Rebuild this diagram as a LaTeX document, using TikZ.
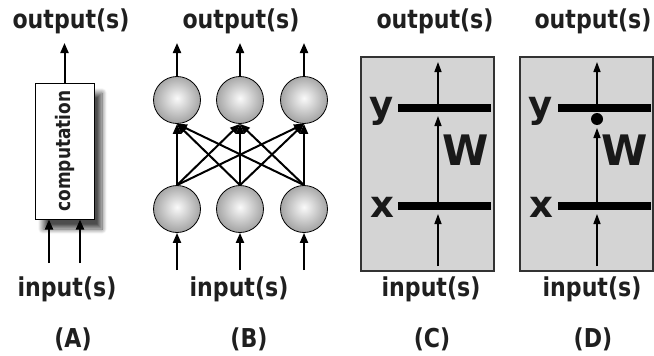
\documentclass[tikz,border=0pt]{standalone}
\usepackage{fontspec}
\setmainfont{DejaVu Sans}
\newfontfamily\lblfont{DejaVu Sans Bold}[FakeStretch=0.85]
\newfontfamily\heavyfont{DejaVu Sans Bold}
\usetikzlibrary{arrows.meta,shadows.blur}
\pgfdeclareradialshading{ballgray}{\pgfpoint{0bp}{2bp}}{color(0bp)=(black!2); color(30bp)=(black!42); color(50bp)=(black!72)}
\begin{document}
\begin{tikzpicture}[x=1pt,y=-1pt,
  lbl/.style={font=\lblfont\fontsize{26}{30}\selectfont, anchor=base, inner sep=0pt, text=black!88},
  arr/.style={line width=2pt, -{Triangle[length=10pt,width=8pt]}},
  thinarr/.style={line width=1.4pt, -{Triangle[length=10pt,width=7pt]}},
  ball/.style={circle, draw=black, line width=0.8pt, minimum size=47pt, inner sep=0pt, shading=ballgray},
  panel/.style={draw=black!80, line width=1.2pt, fill=black!17, minimum width=133pt, minimum height=214pt, inner sep=0pt},
  bar/.style={line width=8pt},
  big/.style={font=\heavyfont\fontsize{37}{40}\selectfont, anchor=base, inner sep=0pt, text=black!90},
  bigw/.style={font=\heavyfont\fontsize{42}{44}\selectfont, anchor=base, inner sep=0pt, text=black!90},
  dotnode/.style={circle, fill=black, minimum size=12pt, inner sep=0pt},
]
\useasboundingbox (0,0) rectangle (654,356);

% ---------- Panel A ----------
\node[lbl] (outA) at (71,28) {output(s)};
\node[lbl] (inA) at (67,296) {input(s)};
\node[lbl] (capA) at (73,347) {(A)};
\node[draw, line width=1pt, fill=white, minimum width=59pt, minimum height=136pt, inner sep=0pt,
  blur shadow={shadow xshift=8pt, shadow yshift=-10pt, shadow blur radius=5pt, shadow blur steps=10, shadow opacity=70}]
  (box) at (64.5,151) {};
\node[rotate=90, font=\lblfont\fontsize{20}{22}\selectfont, text=black!88] (comp) at (65,151) {computation};
\coordinate (oA) at (64.5,43);
\coordinate (iA1) at (49,263);
\coordinate (iA2) at (80,263);
\draw[arr] (box.north) -- (oA);
\draw[arr] (iA1) -- (iA1 |- box.south);
\draw[arr] (iA2) -- (iA2 |- box.south);

% ---------- Panel B ----------
\node[lbl] (outB) at (241,28) {output(s)};
\node[lbl] (inB) at (239,296) {input(s)};
\node[lbl] (capB) at (249,347) {(B)};
\node[ball] (t1) at (177,100) {};
\node[ball] (t2) at (240,100) {};
\node[ball] (t3) at (304,100) {};
\node[ball] (b1) at (177,209) {};
\node[ball] (b2) at (240,209) {};
\node[ball] (b3) at (304,209) {};
\coordinate (ob1) at (177,43);
\coordinate (ob2) at (240,43);
\coordinate (ob3) at (304,43);
\coordinate (ib1) at (177,270);
\coordinate (ib2) at (240,270);
\coordinate (ib3) at (304,270);
\foreach \i in {1,2,3} {
  \draw[arr] (t\i.north) -- (ob\i);
  \draw[arr] (ib\i) -- (b\i.south);
  \foreach \j in {1,2,3} {
    \draw[arr] (b\i.north) -- (t\j.south);
  }
}

% ---------- Panel C ----------
\node[lbl] (outC) at (435,28) {output(s)};
\node[lbl] (inC) at (431,296) {input(s)};
\node[lbl] (capC) at (432,347) {(C)};
\node[panel] (pC) at (427.5,164) {};
\coordinate (yCl) at (398,108);
\coordinate (yCr) at (491,108);
\coordinate (xCl) at (398,206);
\coordinate (xCr) at (491,206);
\draw[bar] (yCl) -- (yCr);
\draw[bar] (xCl) -- (xCr);
\coordinate (c0) at (438,266);
\coordinate (c1) at (438,214);
\coordinate (c2) at (438,202);
\coordinate (c3) at (438,116);
\coordinate (c4) at (438,104);
\coordinate (c5) at (438,62);
\draw[thinarr] (c0) -- (c1);
\draw[thinarr] (c2) -- (c3);
\draw[thinarr] (c4) -- (c5);
\node[big] (yC) at (382,117) {y};
\node[big] (xC) at (382,217) {x};
\node[bigw] (wC) at (466,165) {W};

% ---------- Panel D ----------
\node[lbl] (outD) at (593,28) {output(s)};
\node[lbl] (inD) at (592,296) {input(s)};
\node[lbl] (capD) at (593,347) {(D)};
\node[panel] (pD) at (586.5,164) {};
\coordinate (yDl) at (558,108);
\coordinate (yDr) at (651,108);
\coordinate (xDl) at (558,206);
\coordinate (xDr) at (651,206);
\draw[bar] (yDl) -- (yDr);
\draw[bar] (xDl) -- (xDr);
\node[dotnode] (dot) at (597,119) {};
\coordinate (d0) at (597,266);
\coordinate (d1) at (597,214);
\coordinate (d2) at (597,202);
\coordinate (d3) at (597,128);
\coordinate (d4) at (597,104);
\coordinate (d5) at (597,62);
\draw[thinarr] (d0) -- (d1);
\draw[thinarr] (d2) -- (d3);
\draw[thinarr] (d4) -- (d5);
\node[big] (yD) at (541,117) {y};
\node[big] (xD) at (541,217) {x};
\node[bigw] (wD) at (625,165) {W};
\end{tikzpicture}
\end{document}
